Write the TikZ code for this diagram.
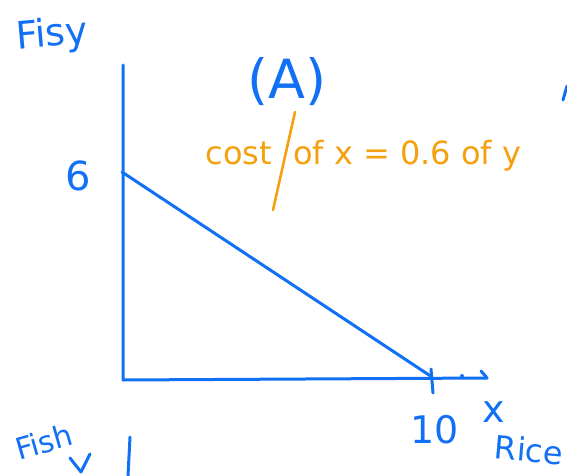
\documentclass[tikz,border=0pt]{standalone}
\usepackage{fontspec}
\setmainfont{DejaVu Sans}
\definecolor{penblue}{RGB}{18,112,245}
\definecolor{penorange}{RGB}{245,160,15}
\begin{document}
\begin{tikzpicture}[x=1pt,y=-1pt,
  ink/.style={penblue,line width=3pt,line cap=round,line join=round},
  lbl/.style={text=penblue,inner sep=0pt},
  olbl/.style={text=penorange,inner sep=0pt,font=\fontsize{32}{32}\selectfont}]
\useasboundingbox (0,0) rectangle (567,476);
% axes
\coordinate (top) at (123,65);
\coordinate (origin) at (123,380);
\coordinate (xend) at (487,378);
\draw[ink] (top) -- (origin) -- (xend);
\draw[ink] (xend) -- (481,371);
% budget line
\coordinate (yint) at (122,172);
\coordinate (xint) at (432,377);
\draw[ink] (yint) -- (xint);
\draw[ink] (431,369) -- (433,393);
\fill[penblue] (462,376) circle (2);
% labels
\node[lbl,font=\fontsize{40}{40}\selectfont] (six) at (78,176) {6};
\node[lbl,font=\fontsize{38}{38}\selectfont] (ten) at (435,430) {10};
\node[lbl,font=\fontsize{38}{38}\selectfont] (xl) at (494,412) {x};
\node[lbl,font=\fontsize{32}{32}\selectfont,rotate=-5] (rice) at (529,450) {Rice};
\node[lbl,font=\fontsize{38}{38}\selectfont,rotate=5] (fishy) at (52,36) {Fisy};
\node[lbl,font=\fontsize{30}{30}\selectfont,rotate=16] (fish) at (44,442) {Fish};
\node[lbl,font=\fontsize{54}{54}\selectfont] (A) at (287,82) {(A)};
\node[olbl,anchor=base east] (cost) at (272,164) {cost};
\node[olbl,anchor=base west] (ofx) at (293,164) {of x = 0.6 of y};
\draw[penorange,line width=2.6pt,line cap=round] (295,112) -- (273,210);
% stray marks
\draw[ink] (70,458) -- (81,472) -- (90,454);
\draw[ink] (130,437) -- (128,476);
\draw[ink] (567,86) -- (563,100);
\end{tikzpicture}
\end{document}
